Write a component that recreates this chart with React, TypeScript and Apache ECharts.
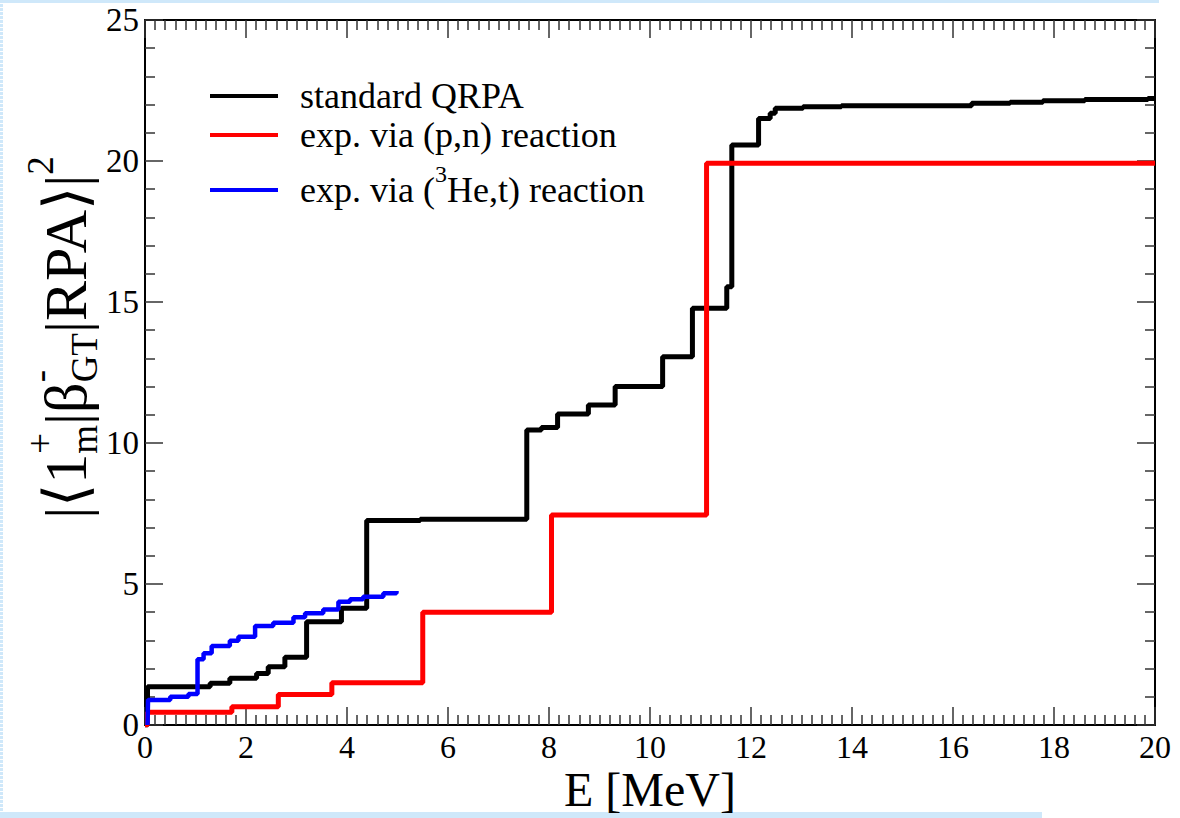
import React, { useEffect, useRef } from "react";
import * as echarts from "echarts";

// ---- data ----
// standard QRPA: cumulative strength, level after each energy
const qrpaE = [0, 0.05, 1.29, 1.68, 2.21, 2.44, 2.77, 3.2, 3.89, 4.39, 5.45, 7.56, 7.85, 8.17, 8.78, 9.31, 10.25, 10.84, 11.52, 11.62, 12.15, 12.38, 12.48, 13.03, 13.79, 16.37, 17.13, 17.78, 18.61, 19.86, 20];
const qrpaS = [0, 1.36, 1.48, 1.66, 1.83, 2.07, 2.4, 3.66, 4.14, 7.25, 7.3, 10.46, 10.55, 11.03, 11.35, 12.0, 13.06, 14.78, 15.54, 20.57, 21.51, 21.69, 21.87, 21.92, 21.96, 22.05, 22.08, 22.14, 22.18, 22.22, 22.22];
// exp. via (p,n)
const pnE = [0, 0.05, 1.72, 2.64, 3.7, 5.5, 8.05, 11.12, 20];
const pnS = [0, 0.45, 0.65, 1.08, 1.5, 4.0, 7.45, 19.92, 19.92];
// exp. via (3He,t)
const heE = [0.05, 0.06, 0.5, 0.86, 1.04, 1.16, 1.32, 1.68, 1.85, 2.18, 2.54, 2.94, 3.17, 3.53, 3.83, 4.06, 4.32, 4.72, 4.98];
const heS = [0, 0.89, 1.0, 1.1, 2.33, 2.54, 2.8, 2.99, 3.13, 3.51, 3.63, 3.82, 3.96, 4.1, 4.37, 4.46, 4.55, 4.67, 4.75];

const seriesNames = ["standard QRPA", "exp. via (p,n) reaction", "exp. via (3He,t) reaction"];
const seriesColors = ["#000000", "#ff0000", "#0000ff"];
const xTicks = { min: 0, max: 20, interval: 2 };
const yTicks = { min: 0, max: 25, interval: 5 };

const FONT = '"Liberation Serif", "Times New Roman", Times, serif';

function measure(text: string, size: number): number {
  const c = document.createElement("canvas").getContext("2d");
  if (!c) return text.length * size * 0.5;
  c.font = `${size}px ${FONT}`;
  return c.measureText(text).width;
}

type Piece = { t: string; s: number; dy: number };
type Slot = Piece[];

function layout(slots: Slot[]): { pieces: { t: string; s: number; x: number; dy: number }[]; width: number } {
  let x = 0;
  const out: { t: string; s: number; x: number; dy: number }[] = [];
  for (const slot of slots) {
    let adv = 0;
    for (const p of slot) {
      out.push({ t: p.t, s: p.s, x, dy: p.dy });
      adv = Math.max(adv, measure(p.t, p.s));
    }
    x += adv;
  }
  return { pieces: out, width: x };
}

function pairs(xs: number[], ys: number[]) {
  return xs.map((x, i) => [x, ys[i]]);
}

export default function App() {
  const ref = useRef<HTMLDivElement>(null);
  useEffect(() => {
    if (!ref.current) return;
    const chart = echarts.init(ref.current, null, { renderer: "svg" });

    const gridLeft = 145, gridTop = 20, gridRight = 25, gridBottom = 93;
    const plotH = 818 - gridTop - gridBottom;

    // y-axis title with sub/superscripts
    const F = 60, f = 37;
    const yl = layout([
      [{ t: "|\u27E81", s: F, dy: 0 }],
      [{ t: "+", s: f, dy: -F * 0.42 }, { t: "m", s: f, dy: F * 0.3 }],
      [{ t: "|\u03B2", s: F, dy: 0 }],
      [{ t: "-", s: f, dy: -F * 0.42 }, { t: "GT", s: f, dy: F * 0.3 }],
      [{ t: "|RPA\u27E9|", s: F, dy: 0 }],
      [{ t: "2", s: f, dy: -F * 0.42 }],
    ]);
    const yCenter = gridTop + plotH / 2 - 35;
    const yLabel = {
      type: "group",
      x: 66,
      y: yCenter + yl.width / 2,
      rotation: Math.PI / 2,
      children: yl.pieces.map((p) => ({
        type: "text",
        x: p.x,
        y: p.dy,
        style: { text: p.t, font: `${p.s}px ${FONT}`, fill: "#000", verticalAlign: "middle", align: "left" },
      })),
    };

    // legend (drawn as graphic because of the superscript)
    const LF = 36;
    const legRows = [
      { y: 96, slots: [[{ t: "standard QRPA", s: LF, dy: 0 }]] as Slot[] },
      { y: 135, slots: [[{ t: "exp. via (p,n) reaction", s: LF, dy: 0 }]] as Slot[] },
      {
        y: 190,
        slots: [
          [{ t: "exp. via (", s: LF, dy: 0 }],
          [{ t: "3", s: 24, dy: -16 }],
          [{ t: "He,t) reaction", s: LF, dy: 0 }],
        ] as Slot[],
      },
    ];
    const legendEls: any[] = [];
    legRows.forEach((row, i) => {
      legendEls.push({
        type: "line",
        shape: { x1: 210, y1: row.y, x2: 278, y2: row.y },
        style: { stroke: seriesColors[i], lineWidth: 4 },
      });
      const l = layout(row.slots);
      l.pieces.forEach((p) => {
        legendEls.push({
          type: "text",
          x: 300 + p.x,
          y: row.y + p.dy,
          style: { text: p.t, font: `${p.s}px ${FONT}`, fill: "#000", verticalAlign: "middle", align: "left" },
        });
      });
    });

    const frameColor = "#cfe8fa";
    const frame = [
      { type: "rect", shape: { x: 0, y: 0, width: 1159, height: 3 }, style: { fill: frameColor } },
      { type: "line", shape: { x1: 1.5, y1: 0, x2: 1.5, y2: 818 }, style: { stroke: frameColor, lineWidth: 3, lineDash: [3, 1] } },
      { type: "rect", shape: { x: 0, y: 812, width: 1042, height: 6 }, style: { fill: frameColor } },
    ];

    const axisLine = { show: true, onZero: false, lineStyle: { color: "#000", width: 2 } };
    const tick = { show: true, inside: true, length: 18, lineStyle: { color: "#333", width: 1.5 } };
    const minor = (n: number) => ({ show: true, splitNumber: n, length: 10, lineStyle: { color: "#333", width: 1.5 } });

    chart.setOption({
      animation: false,
      backgroundColor: "#ffffff",
      grid: { left: gridLeft, top: gridTop, right: gridRight, bottom: gridBottom, show: false, containLabel: false, outerBoundsMode: "none" },
      xAxis: [
        {
          type: "value",
          position: "bottom",
          ...xTicks,
          axisLine,
          axisTick: tick,
          minorTick: minor(10),
          splitLine: { show: false },
          axisLabel: { fontFamily: FONT, fontSize: 32, color: "#000", margin: 6 },
          name: "E [MeV]",
          nameLocation: "middle",
          nameGap: 40,
          nameMoveOverlap: false,
          nameTextStyle: { fontFamily: FONT, fontSize: 48, lineHeight: 48, color: "#000" },
        },
        {
          type: "value",
          position: "top",
          ...xTicks,
          axisLine,
          axisTick: tick,
          minorTick: minor(10),
          splitLine: { show: false },
          axisLabel: { show: false },
        },
      ],
      yAxis: [
        {
          type: "value",
          position: "left",
          ...yTicks,
          axisLine,
          axisTick: tick,
          minorTick: minor(5),
          splitLine: { show: false },
          axisLabel: { fontFamily: FONT, fontSize: 33, color: "#000", margin: 6 },
        },
        {
          type: "value",
          position: "right",
          ...yTicks,
          axisLine,
          axisTick: tick,
          minorTick: minor(5),
          splitLine: { show: false },
          axisLabel: { show: false },
        },
      ],
      series: [
        { name: seriesNames[0], type: "line", step: "end", showSymbol: false, data: pairs(qrpaE, qrpaS), lineStyle: { color: seriesColors[0], width: 5 }, z: 3 },
        { name: seriesNames[1], type: "line", step: "end", showSymbol: false, data: pairs(pnE, pnS), lineStyle: { color: seriesColors[1], width: 5 }, z: 4 },
        { name: seriesNames[2], type: "line", step: "end", showSymbol: false, data: pairs(heE, heS), lineStyle: { color: seriesColors[2], width: 4.5 }, z: 5 },
      ],
      graphic: [...frame, yLabel, ...legendEls],
    });
    return () => chart.dispose();
  }, []);
  return <div ref={ref} style={{ position: "fixed", left: 0, top: 0, width: 1180, height: 818 }} />;
}
